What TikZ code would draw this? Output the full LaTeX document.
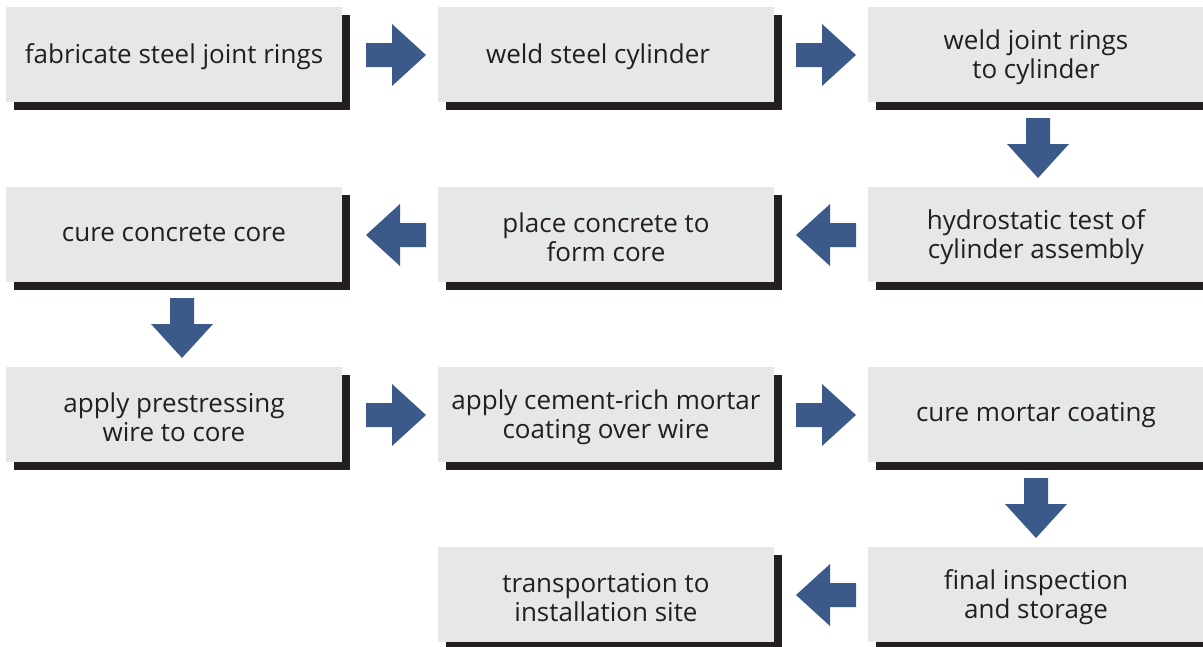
\documentclass[tikz,border=0pt]{standalone}
\usepackage{fontspec}
\setmainfont{Open Sans}
\usetikzlibrary{shadows}
\definecolor{boxc}{RGB}{230,231,232}
\definecolor{shadc}{RGB}{35,31,32}
\definecolor{textc}{RGB}{35,31,32}
\definecolor{arrc}{RGB}{59,90,138}
\tikzset{
  x=1pt, y=-1pt,
  stepbox/.style={fill=boxc, minimum width=336pt, minimum height=95pt, inner sep=0pt,
    general shadow={fill=shadc, shadow xshift=8pt, shadow yshift=-8pt}},
  steptext/.style={inner sep=0pt, align=center, text=textc, font=\fontsize{26}{29}\selectfont},
  blockarrow/.pic={\fill[arrc] (-30,-12) -- (-4,-12) -- (-4,-31) -- (30,0) -- (-4,31) -- (-4,12) -- (-30,12) -- cycle;}
}
\begin{document}
\begin{tikzpicture}
\useasboundingbox (0,0) rectangle (1203,646);
% boxes
\node[stepbox] (a1) at (174,54.5) {};
\node[stepbox] (a2) at (606,54.5) {};
\node[stepbox] (a3) at (1036,54.5) {};
\node[stepbox] (b1) at (174,234.5) {};
\node[stepbox] (b2) at (606,234.5) {};
\node[stepbox] (b3) at (1036,234.5) {};
\node[stepbox] (c1) at (174,414.5) {};
\node[stepbox] (c2) at (606,414.5) {};
\node[stepbox] (c3) at (1036,414.5) {};
\node[stepbox] (d2) at (606,594.5) {};
\node[stepbox] (d3) at (1036,594.5) {};
% texts
\node[steptext] (a1t) at ([yshift=-2pt]a1.center) {fabricate steel joint rings};
\node[steptext] (a2t) at ([xshift=-8pt,yshift=-2pt]a2.center) {weld steel cylinder};
\node[steptext] (a3t) at ([yshift=-3pt]a3.center) {weld joint rings\\to cylinder};
\node[steptext] (b1t) at ([yshift=1pt]b1.center) {cure concrete core};
\node[steptext] (b2t) at ([yshift=-3pt]b2.center) {place concrete to\\form core};
\node[steptext] (b3t) at ([yshift=-3pt]b3.center) {hydrostatic test of\\cylinder assembly};
\node[steptext] (c1t) at ([yshift=-3pt]c1.center) {apply prestressing\\wire to core};
\node[steptext] (c2t) at ([yshift=-3pt]c2.center) {apply cement-rich mortar\\coating over wire};
\node[steptext] (c3t) at ([yshift=-1pt]c3.center) {cure mortar coating};
\node[steptext] (d2t) at ([yshift=-3pt]d2.center) {transportation to\\installation site};
\node[steptext] (d3t) at ([yshift=-3pt]d3.center) {final inspection\\and storage};
% arrows
\pic at (396,55) {blockarrow};
\pic at (826,55) {blockarrow};
\pic[rotate=-90] at (1038,148) {blockarrow};
\pic[rotate=180] at (826,235) {blockarrow};
\pic[rotate=180] at (396,235) {blockarrow};
\pic[rotate=-90] at (182,328) {blockarrow};
\pic at (396,415) {blockarrow};
\pic at (826,415) {blockarrow};
\pic[rotate=-90] at (1036,508) {blockarrow};
\pic[rotate=180] at (826,595) {blockarrow};
\end{tikzpicture}
\end{document}
